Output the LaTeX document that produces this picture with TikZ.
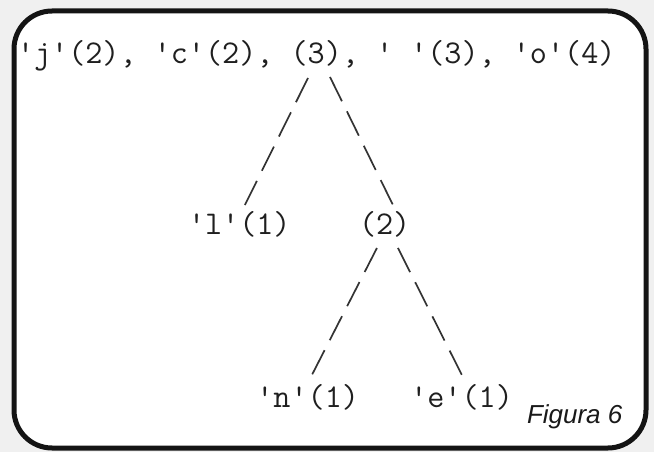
\documentclass[tikz,border=0pt]{standalone}
\usepackage{fontspec}
\newfontfamily\capfont{Liberation Sans}
\begin{document}
\begin{tikzpicture}[x=1pt,y=-1pt,
  lbl/.style={inner sep=0pt, outer sep=0pt, anchor=base west,
    font=\ttfamily\fontsize{33.2}{38}\selectfont\addfontfeature{FakeBold=0.5}, text=black!88},
  branch/.style={draw=black!80, line width=1.7pt, dash pattern=on 27pt off 11.3pt},
  frame/.style={draw=black!92, line width=5pt, fill=white, rounded corners=38pt},
  caption/.style={inner sep=0pt, outer sep=0pt, anchor=base west,
    font=\capfont\itshape\fontsize{26}{30}\selectfont, text=black!90}]
\fill[black!6] (0,0) rectangle (654,452);
\useasboundingbox (0,0) rectangle (654,452);
\draw[frame] (14,11) rectangle (646,448);
% row 1
\node[lbl] (left0) at (17,64) {'j'(2), 'c'(2),};
\node[lbl] (n3) at (290.6,64) {(3)};
\node[lbl] (right0) at (341.9,64) {, ' '(3), 'o'(4)};
% row 2
\node[lbl] (l1) at (188,234) {'l'(1)};
\node[lbl] (n2) at (359,234) {(2)};
% row 3
\node[lbl] (nn) at (256.4,407) {'n'(1)};
\node[lbl] (ne) at (410.3,407) {'e'(1)};
% branches
\draw[branch] ([shift={(-8.25,14)}]n3.base) -- ([shift={(5.6,-29)}]l1.base);
\draw[branch] ([shift={(13.75,13)}]n3.base) -- ([shift={(8.3,-29)}]n2.base);
\draw[branch] ([shift={(-7.7,14)}]n2.base) -- ([shift={(4.2,-32)}]nn.base);
\draw[branch] ([shift={(13.3,14)}]n2.base) -- ([shift={(0.3,-32)}]ne.base);
% caption
\node[caption] (cap) at (527,423) {Figura 6};
\end{tikzpicture}
\end{document}
